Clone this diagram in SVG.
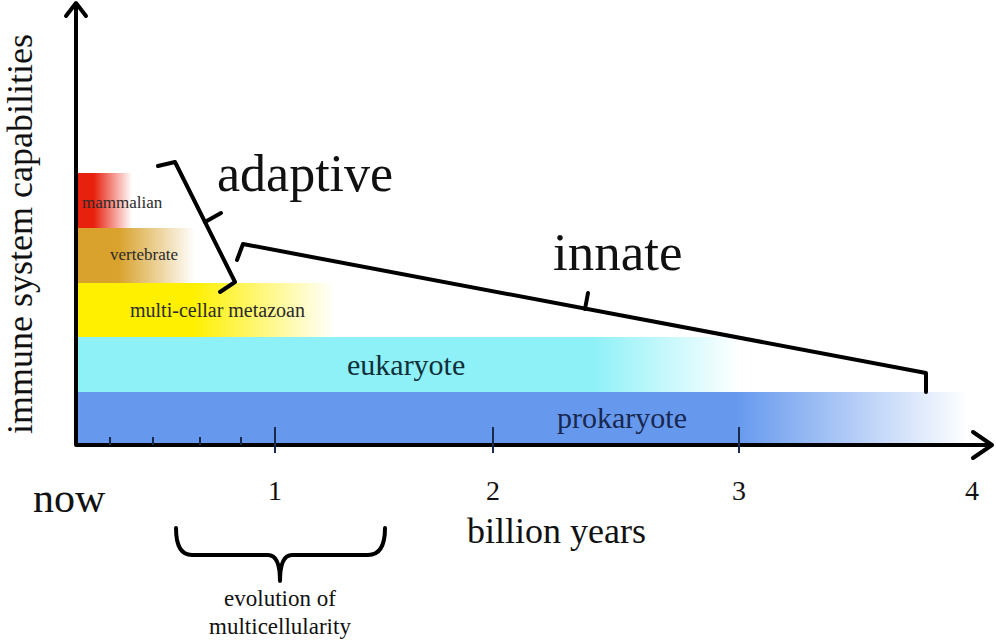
<svg xmlns="http://www.w3.org/2000/svg" width="996" height="641" viewBox="0 0 996 641">
<style>
text{font-family:"Liberation Serif","Times New Roman",serif;fill:#111}
.ln{fill:none;stroke:#000;stroke-width:4;stroke-linecap:round;stroke-linejoin:round}
.tk{stroke:#1a2a4a;stroke-width:2}
.lbl{fill:#2a2a2a}
</style>
<defs>
<linearGradient id="gMam" x1="0" y1="0" x2="1" y2="0"><stop offset="0.3" stop-color="#E8200E"/><stop offset="1" stop-color="#fff"/></linearGradient>
<linearGradient id="gVer" x1="0" y1="0" x2="1" y2="0"><stop offset="0.35" stop-color="#D8A22C"/><stop offset="1" stop-color="#fff"/></linearGradient>
<linearGradient id="gMul" x1="0" y1="0" x2="1" y2="0"><stop offset="0.45" stop-color="#FFF000"/><stop offset="1" stop-color="#fff"/></linearGradient>
<linearGradient id="gEuk" x1="0" y1="0" x2="1" y2="0"><stop offset="0.78" stop-color="#8FF1F8"/><stop offset="1" stop-color="#fff"/></linearGradient>
<linearGradient id="gPro" x1="0" y1="0" x2="1" y2="0"><stop offset="0.74" stop-color="#6699EE"/><stop offset="1" stop-color="#fff"/></linearGradient>
</defs>
<rect width="996" height="641" fill="#fff"/>
<g id="bars">
<g id="prokaryote"><rect x="77" y="392" width="891" height="53" fill="url(#gPro)"/><text x="557" y="428" font-size="30" style="fill:#182850">prokaryote</text></g>
<g id="eukaryote"><rect x="77" y="337" width="663" height="55" fill="url(#gEuk)"/><text x="347" y="375" font-size="30" style="fill:#0f3038">eukaryote</text></g>
<g id="metazoan"><rect x="77" y="283" width="258" height="54" fill="url(#gMul)"/><text x="130" y="317" font-size="20" class="lbl">multi-cellar metazoan</text></g>
<g id="vertebrate"><rect x="77" y="228" width="118" height="55" fill="url(#gVer)"/><text x="110" y="260" font-size="17" class="lbl">vertebrate</text></g>
<g id="mammalian"><rect x="77" y="173" width="55" height="55" fill="url(#gMam)"/><text x="82" y="208" font-size="17" class="lbl">mammalian</text></g>
</g>
<g id="axes">
<path class="ln" d="M76,4 V445 H990"/>
<polyline class="ln" points="66,16 76,3 86,16"/>
<polyline class="ln" points="973,432 992,445 973,458"/>
<g id="ticks">
<line class="tk" x1="110" y1="437" x2="110" y2="445"/>
<line class="tk" x1="153" y1="437" x2="153" y2="445"/>
<line class="tk" x1="200" y1="437" x2="200" y2="445"/>
<line class="tk" x1="241" y1="437" x2="241" y2="445"/>
<line class="tk" x1="275" y1="427" x2="275" y2="453"/>
<line class="tk" x1="493" y1="427" x2="493" y2="453"/>
<line class="tk" x1="739" y1="427" x2="739" y2="453"/>
</g>
<text x="32" y="234" font-size="36" text-anchor="middle" transform="rotate(-90 32 234)">immune system capabilities</text>
<text x="33" y="512" font-size="42">now</text>
<text x="275" y="500" font-size="28" text-anchor="middle">1</text>
<text x="493" y="500" font-size="28" text-anchor="middle">2</text>
<text x="739" y="500" font-size="28" text-anchor="middle">3</text>
<text x="972" y="500" font-size="28" text-anchor="middle">4</text>
<text x="467" y="543" font-size="36">billion years</text>
</g>
<g id="connectors">
<g id="adaptive-bracket"><polyline class="ln" points="158,166 175,162 235,282 220,292"/><line class="ln" x1="205" y1="222" x2="221" y2="213"/></g>
<g id="innate-bracket"><polyline class="ln" points="237,260 243,244 926,373 926,392"/><line class="ln" x1="585" y1="309" x2="588" y2="293"/></g>
<g id="multicell-brace"><path class="ln" d="M176,528 Q176,555 192,555 H268 Q280,555 280,581 Q280,555 292,555 H368 Q385,555 385,528"/></g>
</g>
<g id="labels">
<text x="217" y="191" font-size="52">adaptive</text>
<text x="553" y="270" font-size="53">innate</text>
<text x="280" y="606" font-size="23" text-anchor="middle">evolution of</text>
<text x="280" y="634" font-size="23" text-anchor="middle">multicellularity</text>
</g>
</svg>
